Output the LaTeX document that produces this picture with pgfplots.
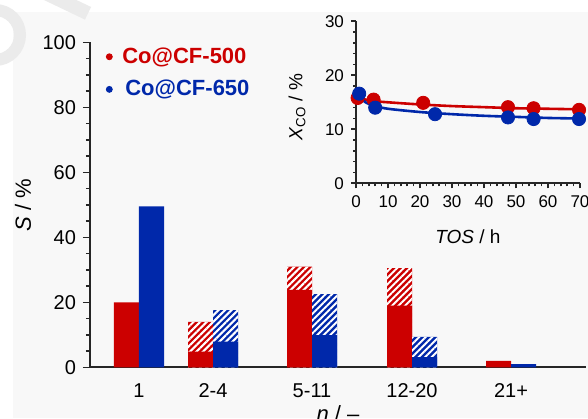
\documentclass[border=0pt]{standalone}
\usepackage{fontspec}
\setmainfont{Liberation Sans}
\usepackage{pgfplots}
\pgfplotsset{compat=1.18}
\usetikzlibrary{patterns.meta}
\definecolor{cred}{RGB}{204,0,0}
\definecolor{cblue}{RGB}{0,40,170}
\definecolor{panel}{RGB}{248,248,248}
\definecolor{wm}{RGB}{235,235,235}
\begin{document}
\begin{tikzpicture}
\fill[white] (-45pt,-25.35pt) rectangle (249pt,183.65pt);
\fill[panel] (-38.5pt,-25.35pt) rectangle (249pt,177.65pt);
% faint watermark strokes
\draw[wm, line width=7pt] (-24pt,188pt) -- (-1pt,177pt);
\draw[wm, line width=6pt] (-47.5pt,178.65pt) arc[start angle=90, end angle=-90, radius=12.5pt];
\begin{axis}[
  scale only axis, width=248pt, height=162.5pt,
  xmin=90, xmax=586, ymin=0, ymax=100,
  axis x line*=bottom, axis y line*=left,
  axis line style={line width=1pt, black!85},
  xtick={139,213,312,412,511}, xticklabels={1,2-4,5-11,12-20,21+},
  x tick style={draw=none},
  xticklabel style={yshift=-1pt},
  ytick={0,20,...,100}, minor y tick num=3,
  tick align=outside,
  major tick length=3.5pt, minor tick length=2pt,
  y tick style={line width=0.8pt, black!85},
  tick label style={font=\fontsize{10}{11}\selectfont},
  /pgf/number format/assume math mode=true,
  ylabel={\textit{S} / \%}, xlabel={\textit{n} / –},
  label style={font=\fontsize{11}{13}\selectfont},
  ylabel style={at={(axis description cs:-0.135,0.5)}, anchor=center},
  xlabel style={at={(axis description cs:0.5,-0.095)}, anchor=north},
  legend style={at={(0.02,1.01)}, anchor=north west, draw=none, fill=none,
    row sep=3pt, font=\bfseries\fontsize{11}{13}\selectfont},
  legend cell align=left,
  every axis plot/.append style={ybar, bar width=25, bar shift=0pt, draw=none},
]
\addlegendimage{only marks, mark=*, mark size=1.5pt, cred}
\addlegendentry[text=cred]{\hspace{3pt}Co@CF-500}
\addlegendimage{only marks, mark=*, mark size=1.5pt, cblue}
\addlegendentry[text=cblue]{\hspace{4.5pt}Co@CF-650}
% red totals (hatched upper part)
\addplot[fill=cred, postaction={pattern={Lines[angle=45,distance=2.3pt,line width=1pt]}, pattern color=white}]
  coordinates {(200.5,14.0) (299.5,31.0) (399.5,30.5)};
% red solid
\addplot[fill=cred] coordinates {(126.5,20.0) (200.5,4.8) (299.5,23.8) (399.5,19.0) (498.5,2.0)};
% blue totals (hatched upper part)
\addplot[fill=cblue, postaction={pattern={Lines[angle=45,distance=2.3pt,line width=1pt]}, pattern color=white}]
  coordinates {(225.5,17.6) (324.5,22.5) (424.5,9.4)};
% blue solid
\addplot[fill=cblue] coordinates {(151.5,49.5) (225.5,7.9) (324.5,9.9) (424.5,3.1) (523.5,1.0)};
\end{axis}
\begin{axis}[
  at={(133pt,92pt)}, anchor=south west,
  scale only axis, width=112pt, height=81pt,
  xmin=0, xmax=70, ymin=0, ymax=30, clip=false,
  axis x line*=bottom, axis y line*=left,
  axis line style={line width=1pt, black!85},
  xtick={0,10,...,70}, ytick={0,10,20,30},
  minor x tick num=4, minor y tick num=4,
  tick align=outside,
  major tick length=2.5pt, minor tick length=1.5pt,
  tick style={line width=0.8pt, black!85},
  tick label style={font=\fontsize{8.5}{9.5}\selectfont},
  /pgf/number format/assume math mode=true,
  xlabel={\textit{TOS} / h},
  ylabel={\textit{X}\textsubscript{CO} / \%},
  label style={font=\fontsize{9.5}{11}\selectfont},
  ylabel style={at={(axis description cs:-0.263,0.47)}, anchor=center},
  xlabel style={at={(axis description cs:0.5,-0.33)}, anchor=center},
]
\addplot[cred, line width=1.3pt, smooth, no marks] coordinates {
  (0,16.0) (3,15.5) (6,15.2) (10,15.0) (20,14.6) (30,14.3) (40,14.1) (50,13.9) (60,13.8) (70,13.7)};
\addplot[cblue, line width=1.3pt, smooth, no marks] coordinates {
  (0,16.5) (3,15.0) (6,14.3) (10,13.8) (20,13.2) (30,12.8) (40,12.5) (50,12.3) (60,12.1) (70,12.0)};
\addplot[only marks, mark=*, mark size=3.3pt, cred] coordinates {
  (0.5,15.8) (5.5,15.5) (21,14.9) (47.5,14.1) (55.5,13.9) (69.7,13.6)};
\addplot[only marks, mark=*, mark size=3.3pt, cblue] coordinates {
  (1,16.6) (6,14.0) (24.7,12.8) (47.5,12.2) (55.5,11.9) (69.7,11.9)};
\end{axis}
\pgfresetboundingbox
\useasboundingbox (-45pt,-25.35pt) rectangle (249pt,183.65pt);
\end{tikzpicture}
\end{document}
